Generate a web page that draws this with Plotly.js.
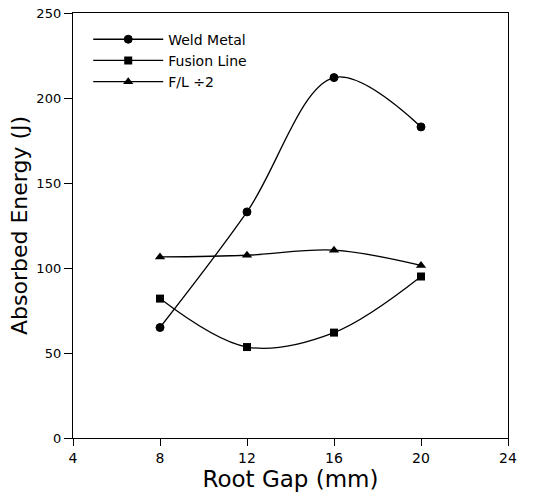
<!DOCTYPE html>
<html>
<head>
<meta charset="utf-8">
<script src="https://cdn.plot.ly/plotly-3.0.1.min.js"></script>
<style>html,body{margin:0;padding:0;background:#fff;}#chart{width:533px;height:499px;}</style>
</head>
<body>
<div id="chart"></div>
<script>
const rootGap = [8, 12, 16, 20];
const weldMetal = [65, 133, 212, 183];
const fusionLine = [82, 53.5, 62, 95];
const flHalf = [106.5, 107.5, 110.5, 101.5];
const seriesNames = ["Weld Metal", "Fusion Line", "F/L \u00f72"];
const xTicks = [4, 8, 12, 16, 20, 24];
const yTicks = [0, 50, 100, 150, 200, 250];

const fontFam = "DejaVu Sans, Liberation Sans, sans-serif";
const traces = [
  {x: rootGap, y: weldMetal, name: seriesNames[0], mode: "lines+markers",
   line: {shape: "spline", color: "#000", width: 1.3},
   marker: {symbol: "circle", size: 8, color: "#000", line: {color: "#000", width: 1}}},
  {x: rootGap, y: fusionLine, name: seriesNames[1], mode: "lines+markers",
   line: {shape: "spline", color: "#000", width: 1.3},
   marker: {symbol: "square", size: 8, color: "#000"}},
  {x: rootGap, y: flHalf, name: seriesNames[2], mode: "lines+markers",
   line: {shape: "spline", color: "#000", width: 1.3},
   marker: {symbol: "triangle-up", size: 9, color: "#000"}}
];
const layout = {
  width: 533, height: 499,
  margin: {l: 73, r: 25, t: 13, b: 61},
  paper_bgcolor: "#fff", plot_bgcolor: "#fff",
  font: {family: fontFam, color: "#000"},
  showlegend: true,
  legend: {x: 0.035, y: 0.975, xanchor: "left", yanchor: "top",
    font: {size: 14, family: fontFam, color: "#000"},
    bgcolor: "rgba(0,0,0,0)", tracegroupgap: 0, itemwidth: 70},
  xaxis: {range: [4, 24], tickvals: xTicks, ticktext: xTicks.map(String),
    ticks: "outside", ticklen: 7, tickcolor: "#000", tickwidth: 1,
    showline: true, linecolor: "#000", linewidth: 1.2, mirror: true,
    showgrid: false, zeroline: false,
    tickfont: {size: 14, family: fontFam},
    title: {text: "Root Gap (mm)", font: {size: 23, family: fontFam}, standoff: 4}},
  yaxis: {range: [0, 250], tickvals: yTicks, ticktext: yTicks.map(String),
    ticks: "outside", ticklen: 8, tickcolor: "#000", tickwidth: 1,
    showline: true, linecolor: "#000", linewidth: 1.2, mirror: true,
    showgrid: false, zeroline: false,
    tickfont: {size: 13, family: fontFam},
    title: {text: "Absorbed Energy (J)", font: {size: 22, family: fontFam}, standoff: 2}}
};
Plotly.newPlot("chart", traces, layout, {displayModeBar: false, staticPlot: true});
</script>
</body>
</html>
